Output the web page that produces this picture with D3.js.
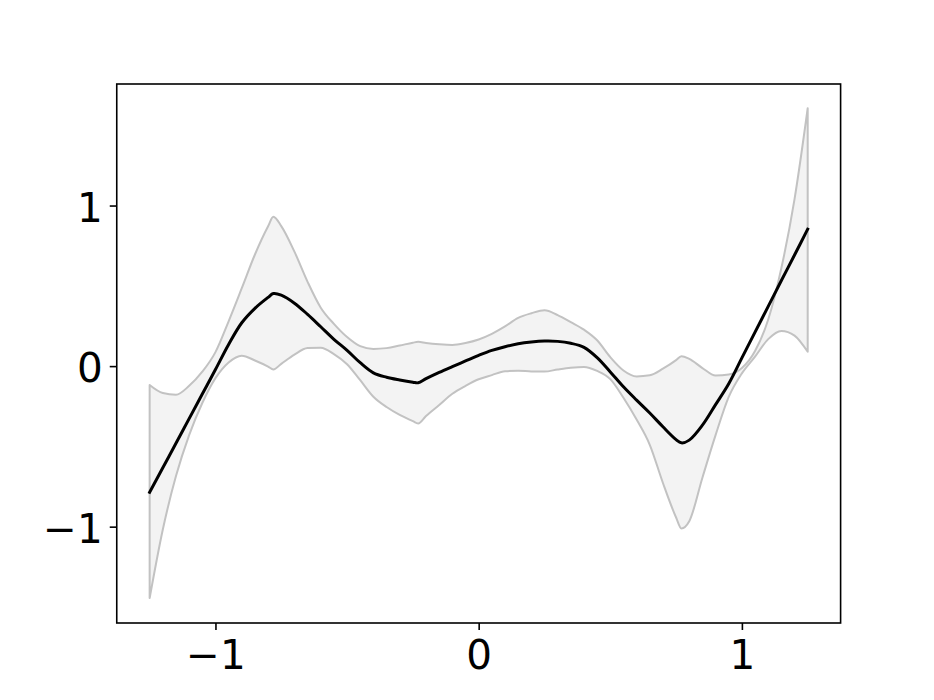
<!DOCTYPE html>
<html>
<head>
<meta charset="utf-8">
<script src="https://cdn.jsdelivr.net/npm/d3@7"></script>
<style>
  html, body { margin: 0; padding: 0; background: #ffffff; }
  svg { display: block; }
</style>
</head>
<body>
<svg id="chart" width="934" height="700"></svg>
<script>
const xValues = [-1.25,-1.20,-1.15,-1.10,-1.05,-1.00,-0.95,-0.90,-0.85,-0.80,-0.78,-0.75,-0.70,-0.65,-0.60,-0.55,-0.50,-0.45,-0.40,-0.35,-0.30,-0.25,-0.23,-0.20,-0.15,-0.10,-0.05,0.00,0.05,0.10,0.15,0.20,0.25,0.30,0.35,0.40,0.45,0.50,0.55,0.60,0.65,0.70,0.75,0.77,0.80,0.85,0.90,0.95,1.00,1.05,1.10,1.15,1.20,1.25];

const meanValues = [-0.786,-0.633,-0.481,-0.327,-0.174,-0.021,0.135,0.270,0.360,0.428,0.452,0.442,0.392,0.322,0.245,0.167,0.098,0.021,-0.042,-0.069,-0.086,-0.100,-0.104,-0.078,-0.039,-0.003,0.032,0.067,0.098,0.121,0.139,0.150,0.156,0.154,0.142,0.117,0.053,-0.036,-0.129,-0.212,-0.292,-0.378,-0.458,-0.478,-0.461,-0.368,-0.240,-0.110,0.051,0.212,0.372,0.533,0.692,0.853];

const upperValues = [-0.118,-0.168,-0.178,-0.123,-0.035,0.087,0.279,0.485,0.695,0.871,0.930,0.872,0.713,0.525,0.364,0.263,0.181,0.124,0.107,0.112,0.128,0.146,0.151,0.144,0.136,0.132,0.144,0.166,0.201,0.247,0.300,0.329,0.348,0.318,0.274,0.227,0.161,0.056,-0.027,-0.064,-0.057,-0.016,0.037,0.062,0.045,-0.012,-0.059,-0.053,-0.012,0.094,0.290,0.611,1.040,1.606];

const lowerValues = [-1.445,-1.018,-0.685,-0.430,-0.230,-0.075,0.023,0.065,0.035,-0.003,-0.021,0.014,0.072,0.112,0.115,0.075,0.012,-0.088,-0.191,-0.255,-0.304,-0.343,-0.357,-0.311,-0.242,-0.172,-0.123,-0.082,-0.056,-0.032,-0.029,-0.033,-0.034,-0.021,-0.010,-0.005,-0.030,-0.081,-0.197,-0.333,-0.490,-0.728,-0.943,-1.011,-0.966,-0.695,-0.430,-0.192,-0.045,0.059,0.168,0.219,0.190,0.089];

const xTicks = [-1, 0, 1];
const yTicks = [-1, 0, 1];

(function () {
  const W = 934, H = 700;
  const plotLeft = 116.75, plotRight = 840.6, plotTop = 84, plotBottom = 623;

  const svg = d3.select("#chart");
  svg.append("rect").attr("width", W).attr("height", H).attr("fill", "#ffffff");

  const x = d3.scaleLinear().domain([-1.375, 1.375]).range([plotLeft, plotRight]);
  const y = d3.scaleLinear().domain([-1.6, 1.757]).range([plotBottom, plotTop]);

  const rows = xValues.map((v, i) => ({ x: v, m: meanValues[i], hi: upperValues[i], lo: lowerValues[i] }));

  const area = d3.area()
    .x(d => x(d.x))
    .y0(d => y(d.lo))
    .y1(d => y(d.hi))
    .curve(d3.curveMonotoneX);

  const g = svg.append("g");

  g.append("path")
    .datum(rows)
    .attr("d", d => area(d))
    .attr("fill", "#f3f3f3")
    .attr("stroke", "#c2c2c2")
    .attr("stroke-width", 2)
    .attr("stroke-linejoin", "round");

  const line = d3.line()
    .x(d => x(d.x))
    .y(d => y(d.m))
    .curve(d3.curveCatmullRom.alpha(0.5));

  g.append("path")
    .datum(rows)
    .attr("d", line)
    .attr("fill", "none")
    .attr("stroke", "#000000")
    .attr("stroke-width", 3)
    .attr("stroke-linejoin", "round")
    .attr("stroke-linecap", "square");

  const font = "'DejaVu Sans', sans-serif";
  const fmt = d3.format("d");

  const xAxis = svg.append("g")
    .attr("transform", `translate(0,${plotBottom})`)
    .call(d3.axisBottom(x).tickValues(xTicks).tickSize(7).tickPadding(7).tickFormat(fmt));
  xAxis.select(".domain").remove();
  xAxis.selectAll(".tick line").attr("stroke", "#000").attr("stroke-width", 1.6);
  xAxis.selectAll(".tick text")
    .attr("font-family", font)
    .attr("font-size", "40.5px")
    .attr("fill", "#000")
    .attr("dy", null)
    .attr("y", 46);

  const yAxis = svg.append("g")
    .attr("transform", `translate(${plotLeft},0)`)
    .call(d3.axisLeft(y).tickValues(yTicks).tickSize(7).tickPadding(7).tickFormat(fmt));
  yAxis.select(".domain").remove();
  yAxis.selectAll(".tick line").attr("stroke", "#000").attr("stroke-width", 1.6);
  yAxis.selectAll(".tick text")
    .attr("font-family", font)
    .attr("font-size", "40.5px")
    .attr("fill", "#000")
    .attr("dy", null)
    .attr("y", 15.5)
    .attr("x", -14);

  svg.append("rect")
    .attr("x", plotLeft).attr("y", plotTop)
    .attr("width", plotRight - plotLeft).attr("height", plotBottom - plotTop)
    .attr("fill", "none")
    .attr("stroke", "#000")
    .attr("stroke-width", 1.6);
})();
</script>
</body>
</html>
